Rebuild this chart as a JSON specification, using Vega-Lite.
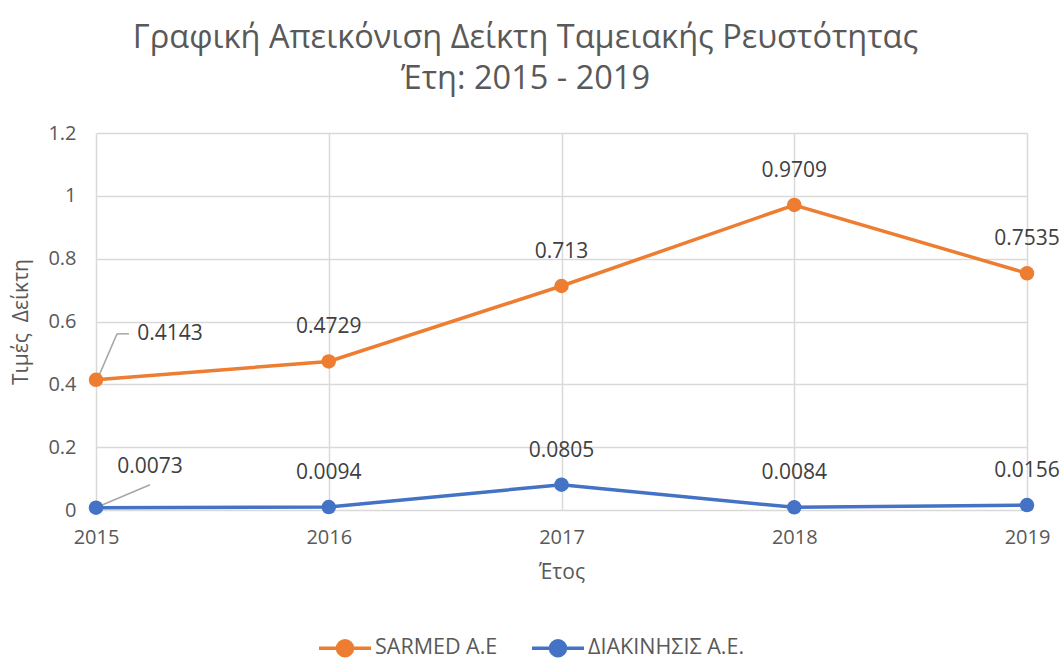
{
  "$schema": "https://vega.github.io/schema/vega-lite/v6.json",
  "width": 931,
  "height": 377,
  "autosize": "none",
  "padding": {"left": 96, "top": 133, "right": 33, "bottom": 151},
  "background": "white",
  "config": {
    "font": "Open Sans",
    "view": {"stroke": null}
  },
  "title": {
    "text": ["Γραφική Απεικόνιση Δείκτη Ταμειακής Ρευστότητας", "Έτη: 2015 - 2019"],
    "fontSize": 32.5,
    "fontWeight": "normal",
    "color": "#595959",
    "lineHeight": 41,
    "anchor": "middle",
    "dx": -36,
    "offset": 28
  },
  "data": {
    "values": [
      {"year": 2015, "series": "SARMED A.E", "value": 0.4143},
      {"year": 2016, "series": "SARMED A.E", "value": 0.4729},
      {"year": 2017, "series": "SARMED A.E", "value": 0.713},
      {"year": 2018, "series": "SARMED A.E", "value": 0.9709},
      {"year": 2019, "series": "SARMED A.E", "value": 0.7535},
      {"year": 2015, "series": "ΔΙΑΚΙΝΗΣΙΣ Α.Ε.", "value": 0.0073},
      {"year": 2016, "series": "ΔΙΑΚΙΝΗΣΙΣ Α.Ε.", "value": 0.0094},
      {"year": 2017, "series": "ΔΙΑΚΙΝΗΣΙΣ Α.Ε.", "value": 0.0805},
      {"year": 2018, "series": "ΔΙΑΚΙΝΗΣΙΣ Α.Ε.", "value": 0.0084},
      {"year": 2019, "series": "ΔΙΑΚΙΝΗΣΙΣ Α.Ε.", "value": 0.0156}
    ]
  },
  "encoding": {
    "x": {
      "field": "year", "type": "quantitative",
      "scale": {"domain": [2015, 2019], "nice": false, "zero": false},
      "axis": {
        "values": [2015, 2016, 2017, 2018, 2019], "format": "d",
        "title": "Έτος", "titleFontSize": 21, "titleFontWeight": "normal", "titleColor": "#595959", "titlePadding": 14,
        "labelFontSize": 20, "labelColor": "#595959", "labelPadding": 17,
        "domain": false, "ticks": false, "grid": true, "gridColor": "#D9D9D9", "gridWidth": 1.5,
        "labelFlush": false
      }
    },
    "y": {
      "field": "value", "type": "quantitative",
      "scale": {"domain": [0, 1.2], "nice": false},
      "axis": {
        "values": [0, 0.2, 0.4, 0.6, 0.8, 1, 1.2], "format": ".1~f",
        "title": "Τιμές\u00a0 Δείκτη", "titleFontSize": 21, "titleFontWeight": "normal", "titleColor": "#595959", "titlePadding": 16,
        "labelFontSize": 20, "labelColor": "#595959", "labelPadding": 20,
        "domain": false, "ticks": false, "grid": true, "gridColor": "#D9D9D9", "gridWidth": 1.5
      }
    },
    "color": {
      "field": "series", "type": "nominal",
      "sort": ["SARMED A.E", "ΔΙΑΚΙΝΗΣΙΣ Α.Ε."],
      "scale": {"domain": ["SARMED A.E", "ΔΙΑΚΙΝΗΣΙΣ Α.Ε."], "range": ["#ED7D31", "#4472C4"]},
      "legend": {
        "title": null, "orient": "none", "direction": "horizontal",
        "legendX": 237, "legendY": 503,
        "symbolType": "M-2.6,0 L2.6,0 M0.75,0 A0.75,0.75 0 1,1 -0.75,0 A0.75,0.75 0 1,1 0.75,0",
        "symbolSize": 400, "symbolStrokeWidth": 3.5,
        "labelFontSize": 21.5, "labelColor": "#595959", "labelOffset": 18, "labelLimit": 300,
        "columnPadding": 27
      }
    }
  },
  "layer": [
    {"mark": {"type": "line", "strokeWidth": 3.5}},
    {
      "transform": [{"filter": "datum.year == 2015 && datum.value > 0.1"}],
      "mark": {"type": "rule", "color": "#A6A6A6", "strokeWidth": 1.5, "xOffset": 2, "yOffset": -2, "x2Offset": 21, "y2Offset": -46},
      "encoding": {
        "x2": {"field": "year"}, "y2": {"field": "value"}, "color": {"value": "#A6A6A6"}
      }
    },
    {
      "transform": [{"filter": "datum.year == 2015 && datum.value > 0.1"}],
      "mark": {"type": "rule", "color": "#A6A6A6", "strokeWidth": 1.5, "xOffset": 21, "yOffset": -46, "x2Offset": 33, "y2Offset": -46},
      "encoding": {
        "x2": {"field": "year"}, "y2": {"field": "value"}, "color": {"value": "#A6A6A6"}
      }
    },
    {
      "transform": [{"filter": "datum.year == 2015 && datum.value < 0.1"}],
      "mark": {"type": "rule", "color": "#A6A6A6", "strokeWidth": 1.5, "xOffset": 2, "yOffset": -1, "x2Offset": 54, "y2Offset": -23},
      "encoding": {
        "x2": {"field": "year"}, "y2": {"field": "value"}, "color": {"value": "#A6A6A6"}
      }
    },
    {"mark": {"type": "point", "filled": true, "size": 210, "opacity": 1}},
    {
      "transform": [{"filter": "datum.year != 2015"}],
      "mark": {"type": "text", "fontSize": 21, "dy": -34},
      "encoding": {"text": {"field": "value", "type": "nominal"}, "color": {"value": "#404040"}}
    },
    {
      "transform": [{"filter": "datum.year == 2015 && datum.value > 0.1"}],
      "mark": {"type": "text", "fontSize": 21, "dx": 74, "dy": -46},
      "encoding": {"text": {"field": "value", "type": "nominal"}, "color": {"value": "#404040"}}
    },
    {
      "transform": [{"filter": "datum.year == 2015 && datum.value < 0.1"}],
      "mark": {"type": "text", "fontSize": 21, "dx": 54, "dy": -41},
      "encoding": {"text": {"field": "value", "type": "nominal"}, "color": {"value": "#404040"}}
    }
  ]
}
